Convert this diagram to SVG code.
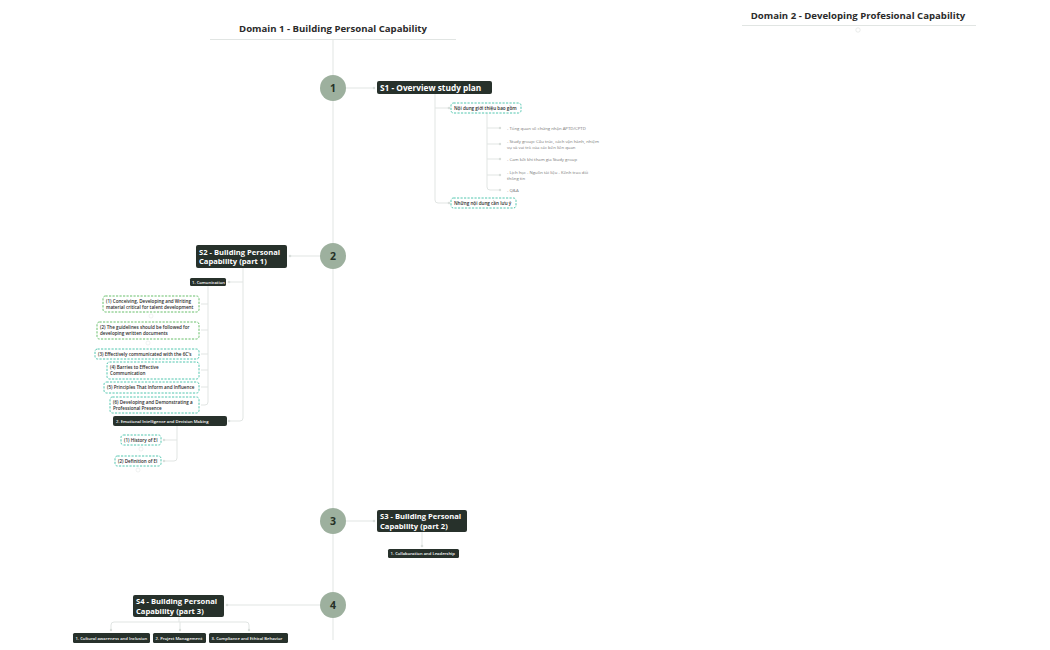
<svg xmlns="http://www.w3.org/2000/svg" width="1050" height="650" viewBox="0 0 1050 650">
<style>
.hd{font-family:"Open Sans","Liberation Sans",sans-serif;font-weight:700;font-size:9.6px;fill:#2b2b2b}
.circ{fill:#9db09e}
.num{font-family:"Open Sans","Liberation Sans",sans-serif;font-weight:700;font-size:10.5px;fill:#263126}
.dk{fill:#27312b}
.t1{font-family:"Open Sans","Liberation Sans",sans-serif;font-weight:700;font-size:8.3px;fill:#fff}
.t1b{font-family:"Open Sans","Liberation Sans",sans-serif;font-weight:700;font-size:7.6px;fill:#fff}
.t2{font-family:"Open Sans","Liberation Sans",sans-serif;font-weight:600;font-size:4.2px;fill:#fff}
.teal{fill:#fff;stroke:#3fbfa6;stroke-width:0.9;stroke-dasharray:2.2 1.3}
.grn{fill:#fff;stroke:#58b85a;stroke-width:0.9;stroke-dasharray:2.2 1.3}
.t3{font-family:"Open Sans","Liberation Sans",sans-serif;font-weight:600;font-size:4.6px;fill:#2b2b2b}
.t4{font-family:"Open Sans","Liberation Sans",sans-serif;font-size:4.3px;fill:#777}
.ln{fill:none;stroke:#e1e5e3;stroke-width:1}
.dot{fill:#d9dedb}
</style>
<g id="connectors">
<line class="ln" x1="210" y1="39.5" x2="456" y2="39.5"/>
<line class="ln" x1="333" y1="39.5" x2="333" y2="640"/>
<line class="ln" x1="742" y1="25.5" x2="976" y2="25.5"/>
<circle cx="858" cy="30" r="2.2" fill="none" stroke="#e3e6e4" stroke-width="0.8"/>
<line class="ln" x1="346" y1="88" x2="374" y2="88"/><circle class="dot" cx="374" cy="88" r="1.3"/>
<path class="ln" d="M435 94 V200 Q435 203 438 203 H449"/>
<line class="ln" x1="435" y1="108" x2="449" y2="108"/>
<circle class="dot" cx="449" cy="108" r="1.3"/><circle class="dot" cx="449" cy="203" r="1.3"/>
<path class="ln" d="M487 113 V187 Q487 190 490 190 H500"/>
<line class="ln" x1="487" y1="128" x2="500" y2="128"/>
<line class="ln" x1="487" y1="144" x2="500" y2="144"/>
<line class="ln" x1="487" y1="159" x2="500" y2="159"/>
<line class="ln" x1="487" y1="175" x2="500" y2="175"/>
<circle class="dot" cx="500" cy="128" r="1.2"/><circle class="dot" cx="500" cy="144" r="1.2"/><circle class="dot" cx="500" cy="159" r="1.2"/><circle class="dot" cx="500" cy="175" r="1.2"/><circle class="dot" cx="500" cy="190" r="1.2"/>
<line class="ln" x1="320" y1="256" x2="290" y2="256"/><circle class="dot" cx="290" cy="256" r="1.3"/>
<path class="ln" d="M243 268 V418 Q243 421 240 421 H229"/>
<line class="ln" x1="243" y1="282" x2="229" y2="282"/>
<circle class="dot" cx="229" cy="282" r="1.3"/><circle class="dot" cx="229" cy="421" r="1.3"/>
<path class="ln" d="M208 286 V402 Q208 405 205 405 H201"/>
<line class="ln" x1="208" y1="304" x2="201" y2="304"/>
<line class="ln" x1="208" y1="330" x2="201" y2="330"/>
<line class="ln" x1="208" y1="354" x2="201" y2="354"/>
<line class="ln" x1="208" y1="370" x2="201" y2="370"/>
<line class="ln" x1="208" y1="387" x2="201" y2="387"/>
<circle cx="151" cy="316" r="2" fill="none" stroke="#e6e9e7" stroke-width="0.6"/>
<circle cx="148" cy="343" r="2" fill="none" stroke="#e6e9e7" stroke-width="0.6"/>
<path class="ln" d="M177 426 V458 Q177 461 174 461 H164"/>
<line class="ln" x1="177" y1="440" x2="164" y2="440"/>
<circle class="dot" cx="164" cy="440" r="1.2"/><circle class="dot" cx="164" cy="461" r="1.2"/>
<circle cx="141" cy="449" r="2" fill="none" stroke="#e6e9e7" stroke-width="0.6"/>
<circle cx="138" cy="470" r="2" fill="none" stroke="#e6e9e7" stroke-width="0.6"/>
<line class="ln" x1="346" y1="521" x2="374" y2="521"/><circle class="dot" cx="374" cy="521" r="1.3"/>
<line class="ln" x1="422" y1="532" x2="422" y2="546"/><circle class="dot" cx="422" cy="546" r="1.3"/>
<line class="ln" x1="320" y1="605" x2="227" y2="605"/><circle class="dot" cx="227" cy="605" r="1.3"/>
<line class="ln" x1="179" y1="617" x2="179" y2="622"/>
<path class="ln" d="M111 630 V625 Q111 622 114 622 H246 Q249 622 249 625 V630"/>
<line class="ln" x1="180" y1="622" x2="180" y2="630"/>
<circle class="dot" cx="111" cy="630" r="1.2"/><circle class="dot" cx="180" cy="630" r="1.2"/><circle class="dot" cx="249" cy="630" r="1.2"/>
</g>
<g id="domain1"><text class="hd" x="333" y="32" text-anchor="middle">Domain 1 - Building Personal Capability</text></g>
<g id="domain2"><text class="hd" x="858" y="19" text-anchor="middle">Domain 2 - Developing Profesional Capability</text></g>
<g id="c1"><circle class="circ" cx="333" cy="88" r="13"/><text class="num" x="333" y="91.8" text-anchor="middle">1</text></g>
<g id="c2"><circle class="circ" cx="333" cy="256" r="13"/><text class="num" x="333" y="259.8" text-anchor="middle">2</text></g>
<g id="c3"><circle class="circ" cx="333" cy="521" r="13"/><text class="num" x="333" y="524.8" text-anchor="middle">3</text></g>
<g id="c4"><circle class="circ" cx="333" cy="605" r="13"/><text class="num" x="333" y="608.8" text-anchor="middle">4</text></g>
<g id="s1"><rect class="dk" x="377" y="81" width="115" height="13" rx="2"/><text class="t1" x="380" y="90.8">S1 - Overview study plan</text></g>
<g id="s1a"><rect class="teal" x="451" y="103" width="70" height="10" rx="2.5"/><text class="t3" x="454" y="109.8">Nội dung giới thiệu bao gồm</text></g>
<g id="s1a1"><text class="t4" x="507" y="129.5">- Tổng quan về chứng nhận APTD/CPTD</text></g>
<g id="s1a2"><text class="t4" x="507" y="142.5">- Study group: Cấu trúc, cách vận hành, nhiệm</text><text class="t4" x="507" y="148.5">vụ và vai trò của các bên liên quan</text></g>
<g id="s1a3"><text class="t4" x="507" y="160.5">- Cam kết khi tham gia Study group</text></g>
<g id="s1a4"><text class="t4" x="507" y="173.5">- Lịch học - Nguồn tài liệu - Kênh trao đổi</text><text class="t4" x="507" y="179.5">thông tin</text></g>
<g id="s1a5"><text class="t4" x="507" y="191.5">- Q&amp;A</text></g>
<g id="s1b"><rect class="teal" x="451" y="198" width="65" height="10" rx="2.5"/><text class="t3" x="454" y="204.8">Những nội dung cần lưu ý</text></g>
<g id="s2"><rect class="dk" x="196" y="245" width="91" height="23" rx="2"/><text class="t1b" x="199" y="254.8">S2 - Building Personal</text><text class="t1b" x="199" y="264.3">Capability (part 1)</text></g>
<g id="comm"><rect class="dk" x="190" y="278" width="36" height="8" rx="1.5"/><text class="t2" x="192" y="283.5">1. Comunication</text></g>
<g id="c2a"><rect class="grn" x="103" y="296" width="96" height="16" rx="2.5"/><text class="t3" x="106" y="302.5">(1) Conceiving, Developing and Writing</text><text class="t3" x="106" y="308.5">material critical for talent development</text></g>
<g id="c2b"><rect class="grn" x="97" y="322" width="102" height="17" rx="2.5"/><text class="t3" x="100" y="329">(2) The guidelines should be followed for</text><text class="t3" x="100" y="335">developing written documents</text></g>
<g id="c2c"><rect class="teal" x="95" y="349" width="104" height="10" rx="2.5"/><text class="t3" x="98" y="355.8">(3) Effectively communicated with the 6C's</text></g>
<g id="c2d"><rect class="teal" x="107" y="362" width="92" height="17" rx="2.5"/><text class="t3" x="110" y="369">(4) Barries to Effective</text><text class="t3" x="110" y="375">Communication</text></g>
<g id="c2e"><rect class="teal" x="104" y="382" width="95" height="11" rx="2.5"/><text class="t3" x="107" y="389.2">(5) Principles That Inform and Influence</text></g>
<g id="c2f"><rect class="teal" x="110" y="397" width="89" height="16" rx="2.5"/><text class="t3" x="113" y="403.5">(6) Developing and Demonstrating a</text><text class="t3" x="113" y="409.5">Professional Presence</text></g>
<g id="ei"><rect class="dk" x="113" y="416" width="114" height="10" rx="2"/><text class="t2" x="116" y="422.5">2. Emotional Intelligence and Decision Making</text></g>
<g id="ei1"><rect class="teal" x="121" y="435" width="40" height="10" rx="2.5"/><text class="t3" x="124" y="441.8">(1) History of EI</text></g>
<g id="ei2"><rect class="teal" x="115" y="456" width="46" height="10" rx="2.5"/><text class="t3" x="118" y="462.8">(2) Definition of EI</text></g>
<g id="s3"><rect class="dk" x="377" y="510" width="90" height="22" rx="2"/><text class="t1b" x="380" y="519.3">S3 - Building Personal</text><text class="t1b" x="380" y="528.8">Capability (part 2)</text></g>
<g id="collab"><rect class="dk" x="388" y="549" width="71" height="9" rx="1.5"/><text class="t2" x="390.5" y="555">1. Collaboration and Leadership</text></g>
<g id="s4"><rect class="dk" x="133" y="595" width="91" height="22" rx="2"/><text class="t1b" x="136" y="604.3">S4 - Building Personal</text><text class="t1b" x="136" y="613.8">Capability (part 3)</text></g>
<g id="s4a"><rect class="dk" x="73" y="633" width="77" height="10" rx="1.5"/><text class="t2" x="75.5" y="639.5">1. Cultural awareness and Inclusion</text></g>
<g id="s4b"><rect class="dk" x="153" y="633" width="53" height="10" rx="1.5"/><text class="t2" x="155.5" y="639.5">2. Project Management</text></g>
<g id="s4c"><rect class="dk" x="209" y="633" width="79" height="10" rx="1.5"/><text class="t2" x="211.5" y="639.5">3. Compliance and Ethical Behavior</text></g>
</svg>
